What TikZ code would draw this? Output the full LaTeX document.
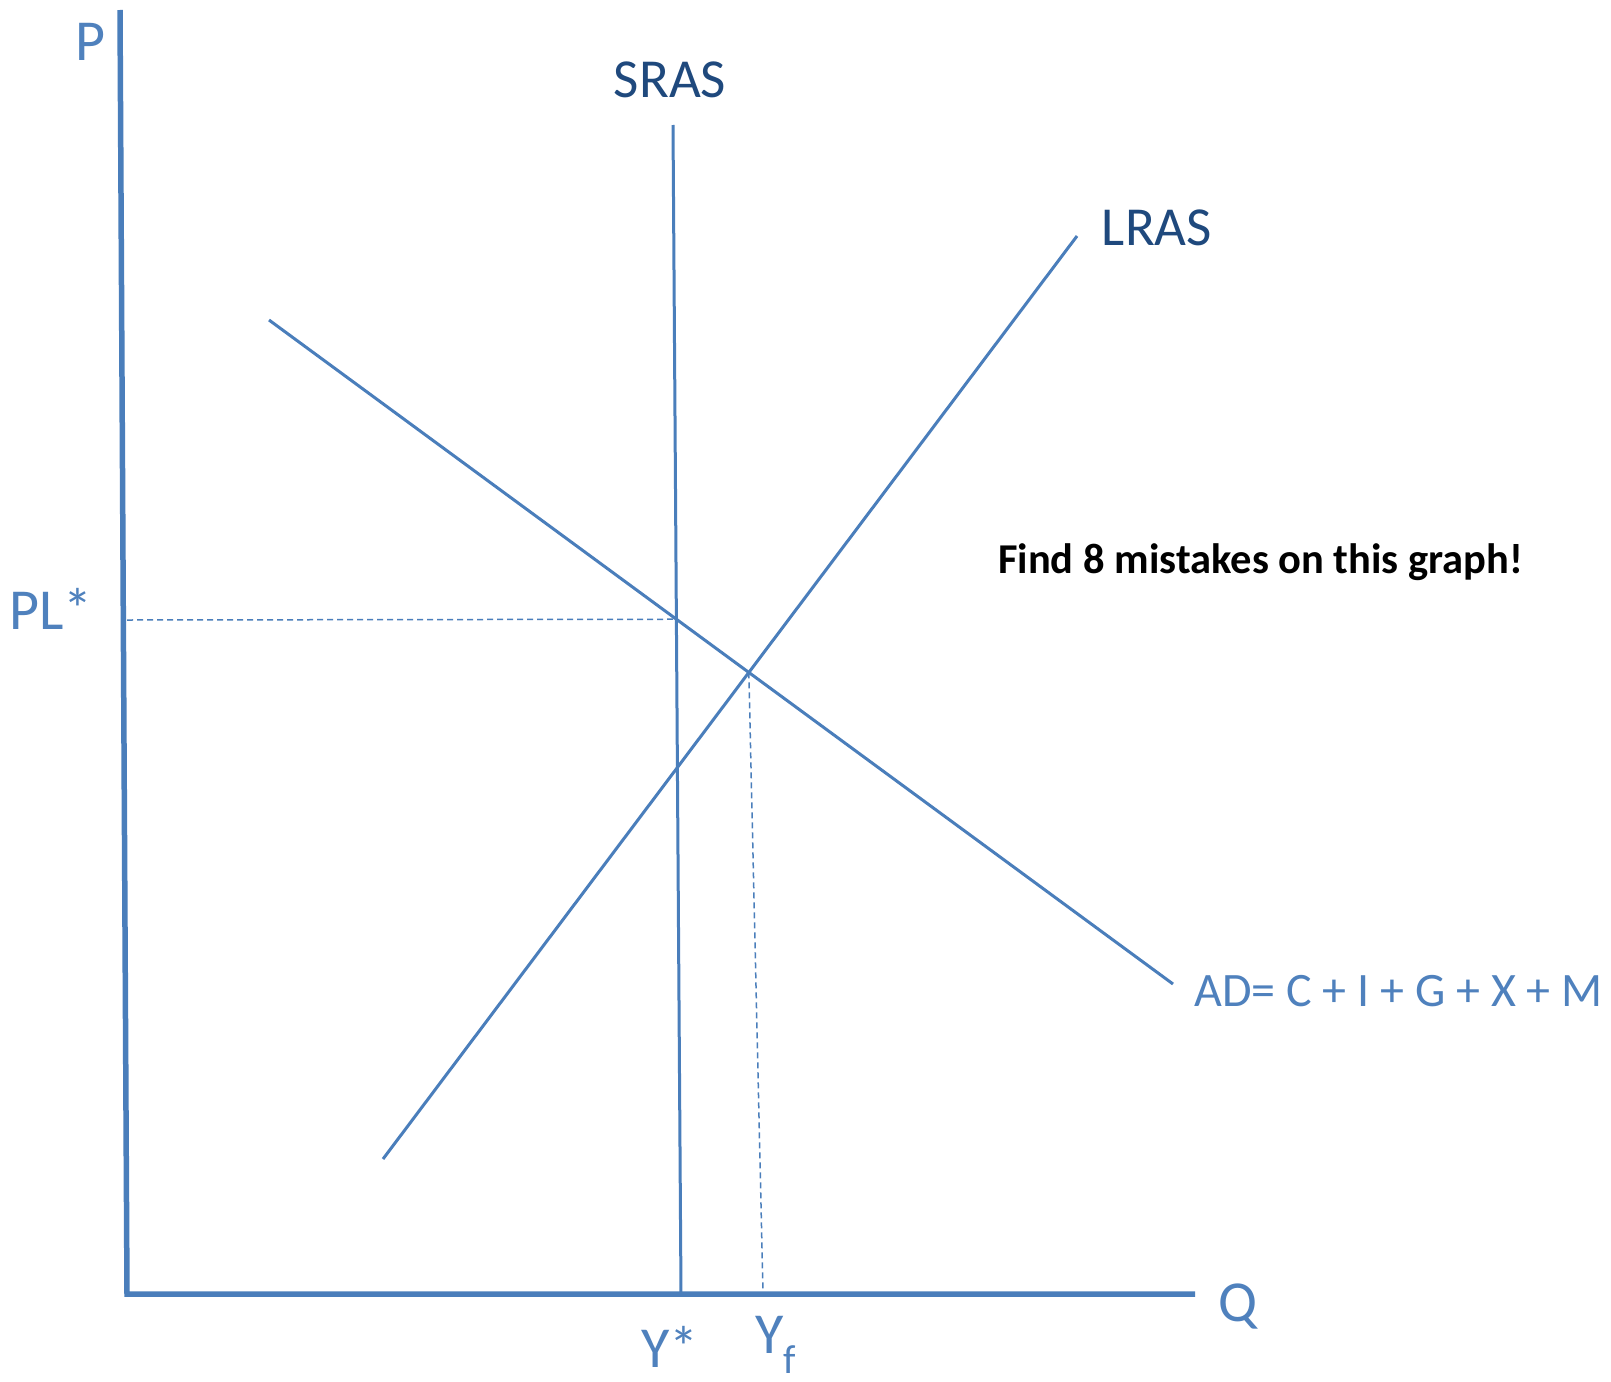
\documentclass[tikz,border=0pt]{standalone}
\usepackage{fontspec}
\setmainfont{Carlito}
\usetikzlibrary{intersections}
\definecolor{axblue}{HTML}{4A7EBB}
\definecolor{txblue}{HTML}{4F81BD}
\definecolor{dkblue}{HTML}{1F497D}
\tikzset{
  axisline/.style={draw=axblue,line width=5.5pt},
  curve/.style={draw=axblue,line width=3pt},
  guide/.style={draw=axblue,line width=1.5pt,dash pattern=on 6pt off 4pt},
  axlabel/.style={text=txblue,font=\fontsize{58}{60}\selectfont,inner sep=0pt},
  curvelabel/.style={text=dkblue,font=\fontsize{55}{57}\selectfont,inner sep=0pt},
}
\begin{document}
\begin{tikzpicture}[x=1pt,y=-1pt]
\useasboundingbox (0,0) rectangle (1611,1381);
\fill[white] (0,0) rectangle (1611,1381);
% axes
\coordinate (Ptop) at (120,10);
\coordinate (O) at (127,1294);
\coordinate (Qend) at (1195,1294);
\draw[axisline] (Ptop) -- (O) -- (Qend);
% curves
\coordinate (S1) at (673,125);
\coordinate (S2) at (681,1294);
\coordinate (L1) at (383,1159);
\coordinate (L2) at (1077,236);
\coordinate (A1) at (269,320);
\coordinate (A2) at (1173,984);
\draw[curve,name path=sras] (S1) -- (S2);
\draw[curve,name path=lras] (L1) -- (L2);
\draw[curve,name path=ad] (A1) -- (A2);
\path[name intersections={of=sras and ad,by=E1}];
\path[name intersections={of=lras and ad,by=E2}];
\coordinate (PLax) at (127,620);
\coordinate (Yfax) at (763,1292);
\draw[guide] (PLax) -- (E1);
\draw[guide] (E2) -- (Yfax);
% labels
\node[axlabel] (P) at (90,42) {P};
\node[axlabel] (Q) at (1238,1307) {Q};
\node[axlabel] (PL) at (51,609) {PL*};
\node[axlabel] (Ys) at (670,1347) {Y*};
\node[axlabel] (Yf) at (776,1345) {Y\textsubscript{f}};
\node[curvelabel] (SRAS) at (670,80) {SRAS};
\node[curvelabel] (LRAS) at (1157,228) {LRAS};
\node[text=txblue,font=\fontsize{48}{50}\selectfont,inner sep=0pt,anchor=west] (AD) at (1194,991) {AD= C + I + G + X + M};
\node[font=\bfseries\fontsize{42.5}{44}\selectfont,inner sep=0pt,anchor=west] (find) at (998,562) {Find 8 mistakes on this graph!};
\end{tikzpicture}
\end{document}
